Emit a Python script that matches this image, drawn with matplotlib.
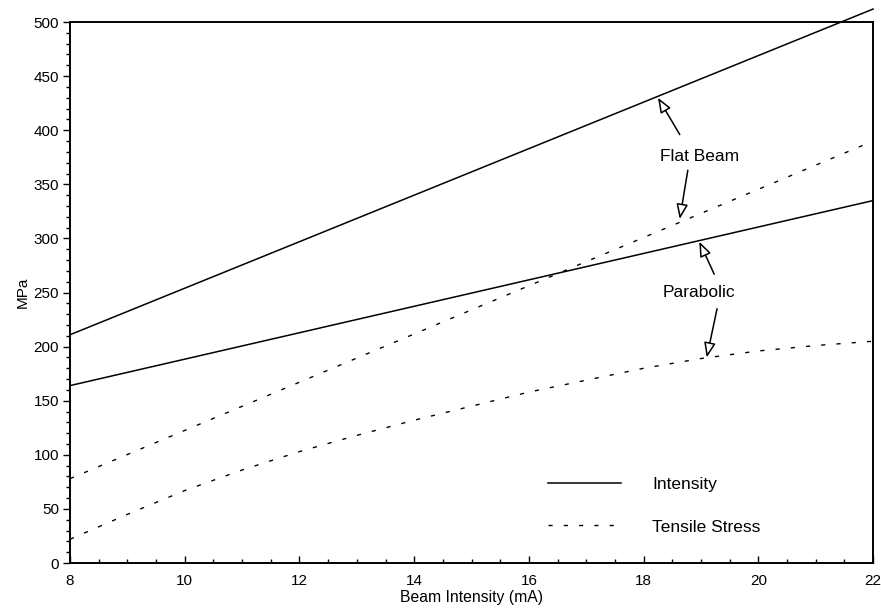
import matplotlib.pyplot as plt
from matplotlib.ticker import MultipleLocator

plt.rcParams['font.family'] = ['Liberation Sans', 'DejaVu Sans']

# 데이터
x_lin = [8, 22]
flat_intensity = [211, 512]
parabolic_intensity = [164, 335]
flat_stress = [78, 390]

x_curve = [8, 9, 10, 11, 12, 13, 14, 15, 16, 17, 18, 19, 20, 21, 22]
parabolic_stress = [22, 45, 67, 86, 103, 118, 132, 145, 158, 169, 180, 189, 196, 201, 205]

fig = plt.figure(figsize=(8.81, 6.12), dpi=100)
ax = fig.add_axes([0.0795, 0.080, 0.9115, 0.884])

dash = (0, (3, 8))
ax.plot(x_lin, flat_intensity, color='black', lw=1.1, clip_on=False, label='Intensity')
ax.plot(x_lin, parabolic_intensity, color='black', lw=1.1)
ax.plot(x_lin, flat_stress, color='black', lw=1.0, linestyle=dash, label='Tensile Stress')
ax.plot(x_curve, parabolic_stress, color='black', lw=1.0, linestyle=dash)

ax.set_xlim(8, 22)
ax.set_ylim(0, 500)
ax.xaxis.set_major_locator(MultipleLocator(2))
ax.xaxis.set_minor_locator(MultipleLocator(0.5))
ax.yaxis.set_major_locator(MultipleLocator(50))
ax.yaxis.set_minor_locator(MultipleLocator(10))

ax.tick_params(axis='y', which='major', direction='out', length=5, width=1, labelsize=11, pad=3)
ax.tick_params(axis='y', which='minor', direction='out', length=3, width=1)
ax.tick_params(axis='x', which='major', direction='in', length=5, width=1, labelsize=11, pad=8)
ax.tick_params(axis='x', which='minor', direction='in', length=3, width=1)

for s in ax.spines.values():
    s.set_linewidth(1.4)

ax.set_xlabel('Beam Intensity (mA)', fontsize=11.3, labelpad=1)
ax.set_ylabel('MPa', fontsize=11, labelpad=3)

# 주석 화살표 (속이 빈 화살촉)
arrow = dict(arrowstyle='-|>,head_length=0.9,head_width=0.35', fc='white', ec='black', lw=1.1, shrinkA=0, shrinkB=0)
ax.text(18.97, 376, 'Flat Beam', ha='center', va='center', fontsize=12.5)
ax.annotate('', xy=(18.25, 430), xytext=(18.63, 396), arrowprops=arrow)
ax.annotate('', xy=(18.63, 318), xytext=(18.77, 363), arrowprops=arrow)

ax.text(18.97, 250, 'Parabolic', ha='center', va='center', fontsize=12.5)
ax.annotate('', xy=(18.97, 297), xytext=(19.23, 267), arrowprops=arrow)
ax.annotate('', xy=(19.1, 190), xytext=(19.28, 235), arrowprops=arrow)

ax.legend(loc='upper left', bbox_to_anchor=(0.595, 0.16), frameon=False, fontsize=12.5,
          handlelength=4.2, handletextpad=1.8, labelspacing=1.6, borderpad=0, borderaxespad=0)

plt.savefig('out.png', dpi=100)
plt.close()
